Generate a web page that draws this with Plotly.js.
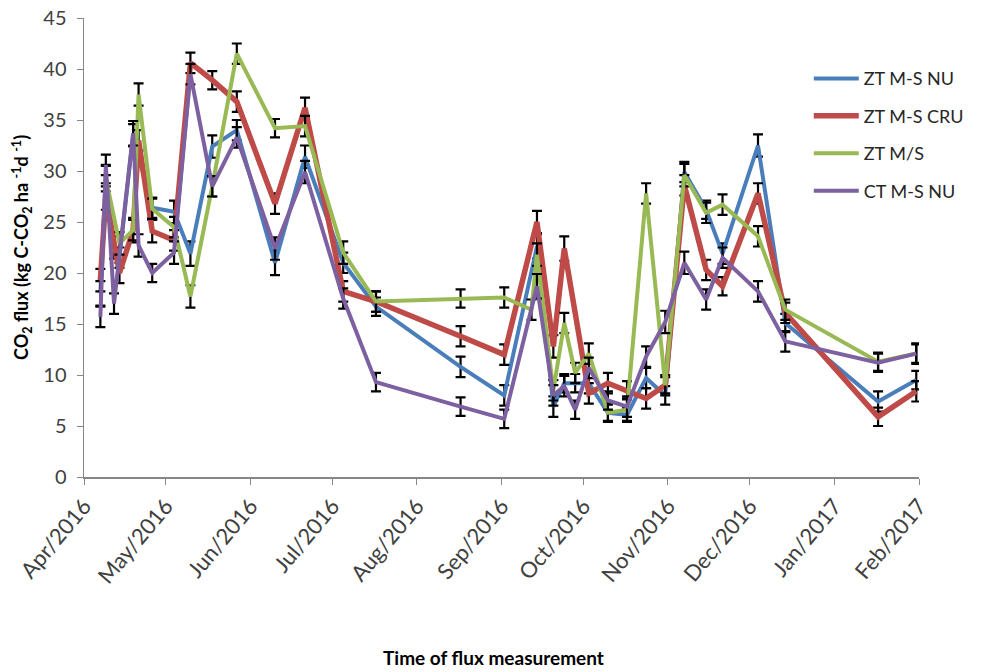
<!DOCTYPE html>
<html>
<head>
<meta charset="utf-8">
<script src="https://cdn.plot.ly/plotly-3.0.1.min.js"></script>
<style>
  html, body { margin: 0; padding: 0; background: #ffffff; }
  #chart { width: 984px; height: 672px; }
</style>
</head>
<body>
<div id="chart"></div>
<script>
// Sampling dates of the CO2 flux campaign
const dates = [
  '2016-04-07','2016-04-09','2016-04-12','2016-04-14','2016-04-19','2016-04-21',
  '2016-04-26','2016-05-04','2016-05-10','2016-05-18','2016-05-27','2016-06-10',
  '2016-06-21','2016-07-05','2016-07-17','2016-08-17','2016-09-02','2016-09-12',
  '2016-09-14','2016-09-20','2016-09-24','2016-09-28','2016-10-03','2016-10-10',
  '2016-10-17','2016-10-24','2016-10-31','2016-11-07','2016-11-15','2016-11-21',
  '2016-12-04','2016-12-14','2017-01-17','2017-01-31'
];

// Mean flux per treatment (kg C-CO2 ha-1 d-1); null = not sampled that day
const ztMsNu = [18.0, 29.5, 22.5, 21.5, 33.5, null, 26.4, 26.0, 21.9, 32.4, 34.0, 21.0,
  31.4, 21.0, 16.7, 10.8, 8.0, null, 22.6, 6.9, 9.2, 9.2, 9.2, 6.3,
  6.1, 9.7, 8.0, 29.9, 26.2, 21.9, 32.5, 15.1, 7.4, 9.5];
const ztMsCru = [19.3, 27.5, null, 20.0, 24.2, 33.0, 24.1, 23.2, 40.6, 38.9, 36.8, 26.8,
  36.2, 18.2, 17.2, 13.8, 12.0, null, 25.0, 12.8, 22.4, null, 8.2, 9.2,
  8.5, 7.7, 9.0, 28.6, 20.3, 18.7, 27.8, 16.1, 5.9, 8.4];
const ztMS = [null, 29.3, null, 22.9, 24.2, 37.5, 26.3, 24.5, 17.7, 28.5, 41.5, 34.2,
  34.4, 22.0, 17.2, 17.5, 17.6, 16.4, 21.8, 8.5, 15.1, 10.2, 12.1, 6.3,
  6.6, 27.8, 9.0, 29.6, 25.9, 26.7, 23.6, 16.4, 11.3, 12.1];
const ctMsNu = [15.7, 30.6, 17.0, null, 33.7, 22.7, 20.0, 22.0, 39.5, 28.5, 33.3, 22.4,
  29.9, 17.5, 9.3, 6.9, 5.7, null, 18.7, 8.0, 8.9, 6.6, 10.7, 7.5,
  6.9, 11.8, 15.2, 21.0, 17.4, 21.5, 18.2, 13.3, 11.2, 12.1];

// Standard errors
const errMsNu = [1.2, 1.0, 1.1, 1.0, 1.1, null, 1.0, 1.1, 1.2, 1.1, 1.0, 1.2,
  1.1, 1.0, 0.9, 1.0, 1.0, null, 1.2, 1.0, 0.9, 0.9, 1.0, 0.8,
  0.7, 1.0, 0.9, 1.0, 0.9, 1.0, 1.1, 0.9, 1.0, 0.9];
const errMsCru = [1.1, 1.3, null, 1.0, 1.2, 1.0, 1.1, 1.0, 1.0, 0.9, 1.0, 1.0,
  1.0, 1.0, 1.0, 1.0, 1.0, null, 1.1, 1.1, 1.2, null, 1.0, 1.0,
  0.9, 1.0, 0.8, 1.0, 1.0, 0.9, 1.0, 1.0, 0.9, 1.0];
const errMS = [null, 1.3, null, 1.1, 1.0, 1.1, 1.0, 1.0, 1.1, 1.0, 1.0, 0.9,
  1.0, 1.1, 1.0, 0.9, 1.0, 1.0, 1.1, 1.0, 1.0, 1.0, 1.0, 0.9,
  1.1, 1.0, 1.0, 1.1, 1.0, 1.0, 1.0, 1.0, 0.9, 0.9];
const errCtNu = [1.0, 1.0, 1.0, null, 1.2, 1.1, 0.9, 1.1, 1.0, 1.0, 1.0, 1.1,
  1.1, 1.0, 0.9, 0.9, 0.9, null, 1.2, 1.0, 1.0, 0.9, 1.0, 0.9,
  1.0, 1.0, 1.1, 1.1, 1.0, 1.0, 1.0, 1.0, 0.9, 1.0];

const names = ['ZT M-S NU', 'ZT M-S CRU', 'ZT M/S', 'CT M-S NU'];
const colors = ['#4a7ebb', '#be4b48', '#98b954', '#7d60a0'];
const widths = [4, 5.5, 4, 4];
const values = [ztMsNu, ztMsCru, ztMS, ctMsNu];
const errors = [errMsNu, errMsCru, errMS, errCtNu];

const traces = values.map((v, i) => ({
  type: 'scatter',
  mode: 'lines',
  x: dates,
  y: v,
  name: names[i],
  legendgroup: 'g' + i,
  connectgaps: true,
  line: { color: colors[i], width: widths[i] },
  error_y: { type: 'data', array: errors[i], visible: true, color: '#000000', thickness: 2.2, width: 5 }
}));

const fontFamily = 'Lato, "Liberation Sans", sans-serif';

const layout = {
  width: 984,
  height: 672,
  margin: { l: 84, r: 65, t: 18, b: 195 },
  paper_bgcolor: '#ffffff',
  plot_bgcolor: '#ffffff',
  showlegend: true,
  legend: {
    x: 0.868, y: 0.908, xanchor: 'left', yanchor: 'top',
    font: { family: fontFamily, size: 18, color: '#262626' },
    tracegroupgap: 11,
    itemwidth: 45,
    bgcolor: 'rgba(0,0,0,0)'
  },
  xaxis: {
    type: 'date',
    range: ['2016-04-01', '2017-02-01'],
    tick0: '2016-04-01',
    dtick: 'M1',
    tickformat: '%b/%Y',
    tickangle: -50,
    ticks: 'outside',
    ticklen: 6,
    tickcolor: '#868686',
    showline: true,
    linecolor: '#868686',
    linewidth: 1.5,
    showgrid: false,
    zeroline: false,
    tickfont: { family: fontFamily, size: 22, color: '#404040' }
  },
  yaxis: {
    range: [0, 45],
    dtick: 5,
    ticks: 'outside',
    ticklen: 6,
    tickcolor: '#868686',
    showline: true,
    linecolor: '#868686',
    linewidth: 1.5,
    showgrid: false,
    zeroline: false,
    ticklabelstandoff: 6,
    tickfont: { family: fontFamily, size: 20, color: '#404040' }
  },
  annotations: [
    {
      text: '<b>Time of flux measurement</b>',
      xref: 'paper', yref: 'paper', x: 0.49, y: -0.393,
      xanchor: 'center', yanchor: 'middle', showarrow: false,
      font: { family: fontFamily, size: 19, color: '#000000' }
    },
    {
      text: '<b>CO<sub>2</sub> flux (kg C-CO<sub>2</sub> ha <sup>-1</sup>d <sup>-1</sup>)</b>',
      xref: 'paper', yref: 'paper', x: -0.075, y: 0.5,
      xanchor: 'center', yanchor: 'middle', textangle: -90, showarrow: false,
      font: { family: fontFamily, size: 18, color: '#000000' }
    }
  ]
};

Plotly.newPlot('chart', traces, layout, { displayModeBar: false, staticPlot: true });
</script>
</body>
</html>
